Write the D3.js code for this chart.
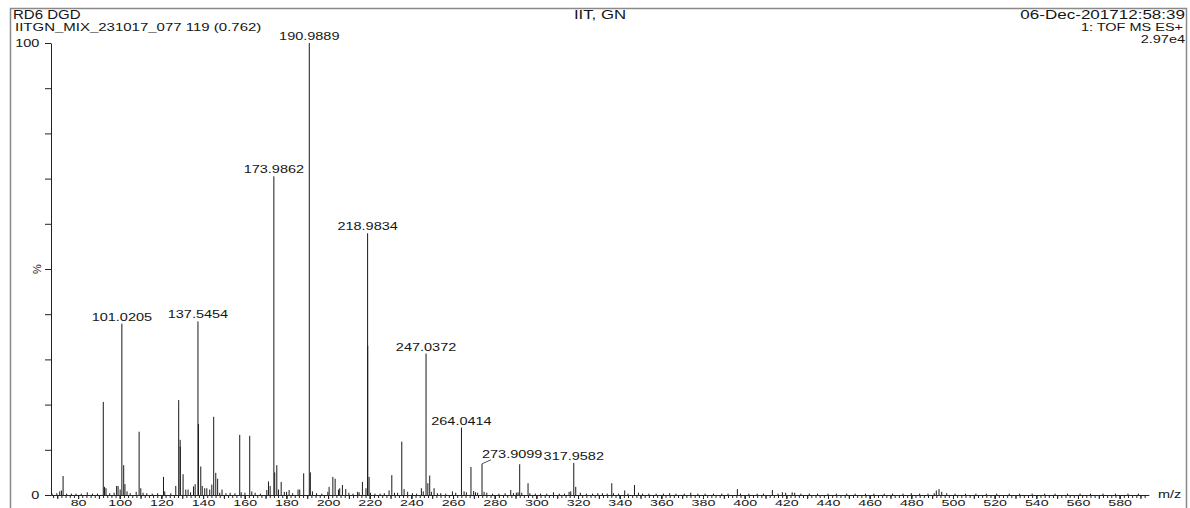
<!DOCTYPE html>
<html>
<head>
<meta charset="utf-8">
<script src="https://cdn.jsdelivr.net/npm/d3@7"></script>
<style>
  body { margin: 0; background: #fff; }
  svg text { font-family: "Liberation Sans", Arial, sans-serif; fill: #151515; }
</style>
</head>
<body>
<svg id="chart" width="1190" height="508"></svg>
<script>
// Centroided peaks: m/z and relative intensity (% of base peak)
const mz = [
  67.5, 69.8, 71.2, 72.0, 72.8, 74.5, 76.8, 79.0, 81.5, 84.4, 86.9, 89.3,
  92.1, 92.7, 93.4, 95.2, 97.3, 98.5, 99.2, 100.2, 101.0205, 101.9, 102.5, 103.5,
  105.0, 107.9, 109.3, 110.1, 111.2, 113.0, 115.6, 118.2, 121.0, 121.6, 124.5, 126.9,
  128.3, 129.0, 129.05, 130.4, 131.7, 132.8, 134.0, 135.4, 136.2, 137.5454, 137.8, 138.9,
  139.6, 140.8, 141.8, 143.2, 144.2, 145.1, 146.1, 147.0, 148.0, 149.1, 151.0, 153.0,
  155.3, 157.6, 158.3, 160.1, 162.4, 163.4, 165.0, 167.5, 170.6, 171.4, 172.2, 173.9862,
  174.4, 175.4, 176.2, 177.5, 179.0, 180.1, 181.3, 183.0, 185.6, 186.4, 188.3, 190.9889,
  191.5, 192.5, 194.5, 197.0, 199.9, 200.5, 202.3, 203.4, 205.0, 205.6, 206.9, 208.5,
  210.0, 212.0, 214.2, 214.9, 216.5, 218.2, 218.9834, 219.05, 219.7, 220.4, 222.5, 225.0,
  227.0, 229.3, 230.6, 231.9, 233.4, 235.4, 236.5, 238.2, 240.5, 242.5, 244.8, 245.7,
  247.0372, 247.9, 248.8, 249.6, 250.9, 252.5, 254.1, 256.5, 259.7, 261.3, 264.0414, 265.3,
  266.4, 268.6, 269.9, 270.8, 271.8, 273.9099, 274.9, 276.2, 279.0, 282.0, 285.0, 287.7,
  289.0, 290.4, 291.2, 292.0, 293.0, 296.0, 296.9, 299.5, 302.0, 305.0, 308.2, 311.0,
  313.5, 315.7, 316.5, 317.9582, 318.9, 321.1, 324.0, 327.0, 329.5, 331.7, 334.0, 336.2,
  337.0, 339.5, 342.4, 344.0, 347.1, 349.0, 351.0, 354.0, 357.5, 361.0, 364.0, 367.0,
  371.0, 374.1, 377.5, 381.0, 385.0, 389.0, 392.0, 396.5, 398.0, 402.0, 406.0, 409.0,
  413.3, 416.0, 418.1, 419.7, 422.8, 424.0, 427.0, 431.0, 435.0, 440.0, 444.0, 449.0,
  453.0, 458.0, 462.0, 467.0, 471.0, 476.0, 480.0, 484.0, 488.0, 491.0, 492.0, 493.3,
  494.6, 497.0, 501.0, 506.0, 511.0, 516.0, 521.0, 527.0, 532.0, 538.0, 544.0, 549.0,
  555.0, 561.0, 566.0, 572.0, 578.0, 584.0, 589.0
];
const intensity = [
  0.3, 0.4, 0.8, 1.0, 4.2, 0.3, 0.3, 0.3, 0.3, 0.6, 0.3, 0.3,
  20.6, 1.8, 1.5, 0.4, 0.5, 2.0, 2.0, 1.2, 37.9, 6.6, 2.4, 0.8,
  0.4, 0.7, 14.0, 1.5, 0.5, 0.4, 0.3, 0.4, 4.0, 0.8, 0.4, 2.0,
  21.0, 12.2, 10.7, 4.6, 1.2, 1.2, 0.6, 1.9, 2.4, 38.4, 15.7, 6.3,
  2.0, 1.5, 1.5, 1.2, 2.3, 17.3, 4.9, 3.6, 0.5, 1.2, 0.4, 0.5,
  0.4, 13.3, 0.6, 0.5, 13.1, 0.8, 0.5, 0.3, 1.1, 3.0, 2.0, 70.5,
  5.0, 6.6, 1.2, 2.9, 0.7, 0.7, 1.1, 0.4, 1.2, 1.2, 4.8, 100,
  5.0, 0.8, 0.4, 0.3, 0.7, 1.8, 4.0, 3.6, 1.2, 1.5, 2.2, 1.3,
  0.5, 0.3, 0.7, 0.6, 2.9, 1.5, 57.9, 33.0, 4.0, 0.5, 0.3, 0.3,
  0.4, 1.0, 4.4, 0.5, 0.5, 11.8, 1.3, 0.7, 0.4, 0.3, 1.5, 0.8,
  31.3, 2.6, 4.3, 0.7, 1.5, 0.4, 0.4, 0.3, 0.8, 0.5, 14.9, 0.8,
  0.6, 6.2, 0.9, 0.6, 0.5, 6.9, 0.7, 0.5, 0.3, 0.3, 0.4, 1.1,
  0.4, 0.5, 0.6, 6.8, 0.5, 2.6, 0.4, 0.3, 0.3, 0.3, 0.6, 0.3,
  0.3, 0.7, 0.8, 7.1, 1.8, 0.5, 0.3, 0.3, 0.4, 0.4, 0.3, 2.6,
  0.4, 0.3, 1.0, 0.3, 2.2, 0.5, 0.3, 0.3, 0.3, 0.3, 0.4, 0.3,
  0.3, 0.5, 0.3, 0.3, 0.3, 0.3, 0.3, 1.3, 0.3, 0.3, 0.3, 0.3,
  1.1, 0.3, 0.6, 0.5, 0.6, 0.5, 0.3, 0.3, 0.3, 0.3, 0.3, 0.3,
  0.3, 0.3, 0.3, 0.3, 0.3, 0.3, 0.4, 0.3, 0.3, 0.4, 1.0, 1.3,
  0.7, 0.4, 0.3, 0.3, 0.3, 0.3, 0.3, 0.3, 0.3, 0.3, 0.3, 0.3,
  0.3, 0.3, 0.3, 0.3, 0.3, 0.3, 0.3
];

// Peaks annotated with their m/z value
const annotatedMz = [101.0205, 137.5454, 173.9862, 190.9889, 218.9834, 247.0372, 264.0414, 273.9099, 317.9582];

// Axis ticks
const xLabelTicks = d3.range(80, 581, 20);
const xMidTicks = d3.range(70, 594, 10);
const xMinorTicks = d3.range(68, 594, 2);
const yTicks = d3.range(0, 101, 10);

// Header text
const headerLeft = ["RD6 DGD", "IITGN_MIX_231017_077 119 (0.762)"];
const headerCenter = "IIT, GN";
const headerRight = ["06-Dec-201712:58:39", "1: TOF MS ES+", "2.97e4"];
const xTitle = "m/z";
const yTitle = "%";

const svg = d3.select("#chart");
const SX = 1.45; // horizontal stretch of the printout font

const x = d3.scaleLinear().domain([67, 594]).range([51, 1148.8]);
const y = d3.scaleLinear().domain([0, 100]).range([495, 43]);

// stretched text helper
function txt(g, px, py, s, size, anchor, sx) {
  return g.append("text")
    .attr("transform", `translate(${px},${py}) scale(${sx},1)`)
    .attr("text-anchor", anchor)
    .style("font-size", size + "px")
    .text(s);
}

// page frame
svg.append("path")
  .attr("d", "M10.5,508 V8.5 H1186.5 V508")
  .attr("fill", "none")
  .attr("stroke", "#8a8a8a")
  .attr("stroke-width", 1.5);

// header
txt(svg, 13, 19, headerLeft[0], 12, "start", 1.25);
txt(svg, 15, 31, headerLeft[1], 10, "start", 1.5);
txt(svg, 600, 19, headerCenter, 12, "middle", 1.4);
txt(svg, 1185, 19, headerRight[0], 12, "end", 1.42);
txt(svg, 1183, 31, headerRight[1], 10, "end", SX);
txt(svg, 1185, 43, headerRight[2], 10, "end", SX);

// x axis: minor, mid and labelled ticks
const gx = svg.append("g").attr("transform", `translate(0,${y(0)})`);
gx.append("g")
  .call(d3.axisBottom(x).tickValues(xMinorTicks).tickSize(3).tickFormat(""))
  .call(g => g.select(".domain").remove());
gx.append("g")
  .call(d3.axisBottom(x).tickValues(xMidTicks).tickSize(4).tickFormat(""))
  .call(g => g.select(".domain").remove());
gx.append("g")
  .call(d3.axisBottom(x).tickValues(xLabelTicks).tickSize(4).tickPadding(0).tickSizeOuter(0))
  .call(g => g.selectAll("text")
    .style("font-size", "9.5px")
    .attr("transform", `scale(1.5,1)`));
gx.selectAll("line, path").attr("stroke", "#222");
txt(svg, 1158, 498, xTitle, 10, "start", SX);

// y axis
const gy = svg.append("g").attr("transform", `translate(${x.range()[0]},0)`);
gy.call(d3.axisLeft(y).tickValues(yTicks).tickSize(6).tickPadding(2).tickSizeOuter(0)
    .tickFormat(d => (d === 0 || d === 100) ? d : ""))
  .call(g => g.selectAll("text")
    .style("font-size", "10px")
    .attr("dy", "0.35em")
    .attr("transform", `scale(${SX},1)`));
gy.selectAll("line, path").attr("stroke", "#222");
svg.append("text")
  .attr("transform", `translate(${x.range()[0] - 10},${y(50)}) rotate(-90)`)
  .attr("text-anchor", "middle")
  .style("font-size", "11px")
  .text(yTitle);

// spectrum sticks
const peaks = mz.map((m, i) => ({ m, v: intensity[i] }));
svg.append("g")
  .selectAll("line")
  .data(peaks)
  .join("line")
  .attr("x1", d => x(d.m))
  .attr("x2", d => x(d.m))
  .attr("y1", y(0))
  .attr("y2", d => y(d.v))
  .attr("stroke", "#1a1a1a")
  .attr("stroke-width", 1);

// peak annotations
const ann = peaks.filter(p => annotatedMz.includes(p.m));
const gl = svg.append("g");
ann.forEach(p => {
  const px = x(p.m), py = y(p.v);
  if (p.m === 273.9099) {
    // shifted label with leader line
    gl.append("line")
      .attr("x1", px).attr("y1", py)
      .attr("x2", px + 9).attr("y2", py - 4)
      .attr("stroke", "#555").attr("stroke-width", 1);
    txt(gl, px, py - 6, p.m.toFixed(4), 10, "start", SX);
  } else {
    txt(gl, px, py - 3, p.m.toFixed(4), 10, "middle", SX);
  }
});
</script>
</body>
</html>
